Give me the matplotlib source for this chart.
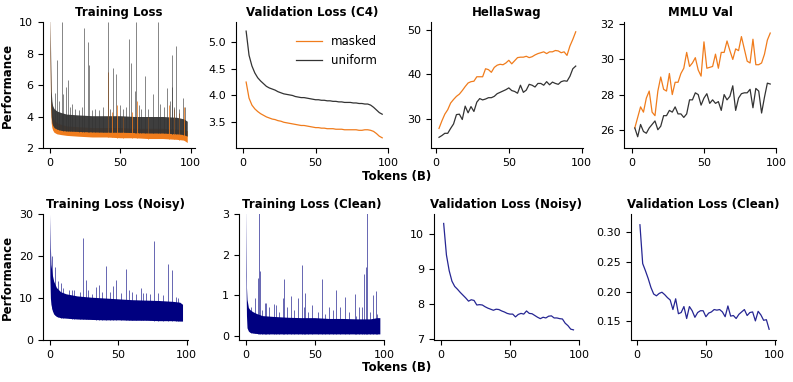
import numpy as np
import matplotlib
matplotlib.use("Agg")
import matplotlib.pyplot as plt

# ---------------- data ----------------
steps = list(range(2, 98, 2))  # evaluation points (B tokens)

# Training loss (band envelope + spikes), masked vs uniform
tl_x = [0.2, 0.6, 1, 1.5, 2, 3, 5, 8, 12, 20, 30, 40, 50, 60, 70, 80, 90, 95, 97.5]
tl_masked_low = [8.0, 4.5, 3.6, 3.3, 3.15, 3.0, 2.9, 2.85, 2.8, 2.75, 2.7, 2.7, 2.65, 2.65, 2.6, 2.6, 2.55, 2.5, 2.35]
tl_masked_high = [10.5, 7.0, 5.0, 4.4, 4.1, 3.8, 3.6, 3.5, 3.4, 3.35, 3.3, 3.3, 3.3, 3.25, 3.25, 3.25, 3.2, 3.15, 3.1]
tl_uniform_low = [8.0, 5.0, 4.0, 3.6, 3.45, 3.3, 3.2, 3.12, 3.08, 3.05, 3.02, 3.0, 3.0, 2.98, 2.95, 2.95, 2.9, 2.85, 2.75]
tl_uniform_high = [10.5, 8.0, 5.6, 5.0, 4.7, 4.5, 4.35, 4.25, 4.15, 4.1, 4.05, 4.05, 4.05, 4.0, 4.0, 4.0, 3.95, 3.85, 3.7]
spk_uniform_x = [5.2, 8.8, 11.4, 12.6, 24.6, 27.0, 27.7, 41.2, 45.0, 46.9, 56.4, 57.8, 60.7, 61.4, 67.3, 73.5, 76.5,
                 83.4, 86.7, 87.0, 89.8, 94.8,
                 3.5, 6.5, 9.5, 14, 16, 18, 21, 23, 30, 32, 35, 38, 43, 50, 52, 54, 63, 65, 70, 78, 81, 85, 88, 92, 96]
spk_uniform_y = [7.6, 10.0, 5.9, 6.3, 9.6, 8.7, 7.3, 10.0, 7.1, 6.7, 8.9, 7.4, 5.6, 10.0, 6.6, 5.4, 10.0,
                 5.8, 7.9, 5.9, 8.5, 5.2,
                 5.5, 5.0, 5.4, 4.6, 4.8, 4.5, 4.4, 4.6, 4.4, 4.5, 4.4, 4.6, 4.5, 4.7, 4.5, 4.6, 4.7, 4.5, 4.5, 4.8,
                 4.6, 5.0, 4.6, 4.5, 4.6]
spk_masked_x = [41.5, 47.6, 62.0, 84.6, 95.0, 44, 52, 58, 70, 88, 92]
spk_masked_y = [6.8, 4.7, 5.0, 4.7, 4.6, 4.3, 4.0, 4.3, 4.0, 4.5, 4.2]

# Validation loss (C4)
val_masked = [4.25, 3.95, 3.82, 3.75, 3.70, 3.66, 3.63, 3.60, 3.58, 3.56, 3.55, 3.53, 3.52, 3.50, 3.49, 3.48,
              3.47, 3.46, 3.45, 3.44, 3.44, 3.43, 3.42, 3.41, 3.40, 3.40, 3.39, 3.39, 3.38, 3.38, 3.38, 3.37,
              3.37, 3.37, 3.36, 3.36, 3.36, 3.36, 3.36, 3.35, 3.35, 3.36, 3.36, 3.35, 3.33, 3.29, 3.24, 3.21]
val_uniform = [5.20, 4.75, 4.55, 4.42, 4.33, 4.27, 4.22, 4.17, 4.14, 4.12, 4.10, 4.07, 4.05, 4.03, 4.02, 4.01,
               4.00, 3.98, 3.97, 3.96, 3.96, 3.95, 3.94, 3.93, 3.92, 3.92, 3.91, 3.91, 3.90, 3.90, 3.89, 3.89,
               3.88, 3.88, 3.87, 3.87, 3.87, 3.86, 3.86, 3.85, 3.85, 3.84, 3.84, 3.82, 3.78, 3.73, 3.68, 3.65]

# HellaSwag
hs_masked = [27.8, 29.5, 31.0, 32.0, 33.5, 34.3, 35.0, 35.5, 36.3, 37.2, 38.0, 38.3, 38.4, 39.4, 39.4, 39.4,
             41.2, 41.0, 40.4, 41.5, 42.0, 42.2, 42.1, 42.5, 43.1, 42.3, 43.0, 43.7, 43.8, 43.8, 44.0, 43.7,
             43.9, 44.3, 44.6, 44.8, 45.0, 44.6, 45.0, 45.0, 45.3, 45.2, 44.8, 45.0, 44.2, 46.3, 47.8, 49.5]
hs_uniform = [25.8, 26.2, 26.7, 26.7, 27.8, 28.8, 30.9, 31.0, 29.8, 32.8, 31.3, 32.7, 31.6, 33.7, 34.5, 34.2,
              34.4, 34.7, 34.7, 35.0, 35.6, 35.9, 36.2, 36.5, 36.9, 36.3, 36.1, 35.7, 37.5, 35.9, 36.4, 37.7,
              37.5, 37.1, 37.9, 37.9, 37.5, 38.3, 37.6, 38.2, 37.9, 37.7, 38.3, 38.5, 38.4, 39.5, 41.2, 41.8]

# MMLU Val
mmlu_masked = [26.1, 26.7, 27.3, 27.0, 27.8, 28.2, 27.0, 26.8, 28.2, 29.0, 28.3, 28.2, 29.2, 28.0, 28.7, 28.7,
               29.2, 29.5, 30.4, 29.6, 29.8, 30.1, 29.4, 29.05, 31.0, 29.5, 29.55, 29.6, 30.3, 29.5, 30.4, 30.4,
               31.05, 30.5, 30.0, 30.6, 30.5, 31.3, 30.6, 29.9, 29.8, 31.15, 29.7, 29.7, 29.8, 30.3, 31.1, 31.5]
mmlu_uniform = [26.1, 25.6, 26.3, 25.9, 25.8, 26.1, 26.3, 26.5, 26.0, 26.2, 26.8, 26.8, 27.1, 27.0, 27.3, 26.9,
                26.9, 26.7, 26.9, 27.7, 27.7, 28.1, 28.0, 27.4, 27.8, 28.05, 27.5, 27.7, 27.5, 27.6, 27.1, 28.0,
                27.7, 27.9, 28.5, 27.1, 27.8, 28.05, 28.1, 28.1, 28.3, 27.25, 28.35, 28.2, 26.95, 27.85, 28.65, 28.6]

# Training loss (Noisy)
tn_x = [0.2, 0.6, 1, 2, 3, 5, 8, 12, 20, 30, 40, 50, 60, 70, 80, 90, 95, 97]
tn_low = [15, 10, 8.5, 7.0, 6.2, 5.6, 5.3, 5.2, 5.0, 4.9, 4.8, 4.8, 4.7, 4.7, 4.6, 4.6, 4.5, 4.5]
tn_high = [30, 22, 18, 15.5, 14, 12.5, 11.5, 11.0, 10.5, 10.2, 10.0, 9.8, 9.6, 9.5, 9.4, 9.2, 9.0, 8.5]
spk_noisy_x = [1.7, 4.1, 26.7, 24.5, 33.7, 36.0, 41.0, 46.6, 48.8, 55.8, 66.5, 76.2, 86.2, 89.0, 14.0, 60.0, 70.0,
               6, 8, 10, 16, 18, 22, 28, 31, 38, 44, 52, 58, 63, 68, 73, 79, 83, 92, 94]
spk_noisy_y = [19.9, 17.5, 14.4, 24.2, 12.7, 13.0, 17.7, 12.8, 14.2, 17.0, 12.4, 23.6, 18.2, 16.7, 12.0, 11.5, 11.2,
               14, 13.5, 12.5, 11.8, 12, 11.5, 12, 11, 11.5, 11.5, 11.2, 11.8, 11, 11.3, 11.0, 11.2, 10.8, 10.2, 10]

# Training loss (Clean)
tc_x = [0.2, 0.6, 1, 2, 3, 5, 8, 12, 20, 30, 40, 50, 60, 70, 80, 90, 95, 97]
tc_low = [1.5, 0.5, 0.2, 0.12, 0.09, 0.07, 0.06, 0.05, 0.05, 0.05, 0.05, 0.05, 0.05, 0.05, 0.05, 0.05, 0.05, 0.05]
tc_high = [3.2, 1.2, 0.9, 0.7, 0.65, 0.6, 0.55, 0.5, 0.48, 0.46, 0.45, 0.45, 0.43, 0.43, 0.42, 0.42, 0.45, 0.45]
spk_clean_x = [9.9, 10.6, 9.1, 27.6, 40.4, 43.0, 55.5, 65.6, 72.0, 78.8, 85.3, 88.0, 87.3, 94.2, 32.5, 37.5, 26.7,
               6.5, 15.0, 20.5, 48.0, 60.0, 82.0, 92.0,
               4, 12, 14, 17, 22, 24, 30, 35, 42, 45, 52, 57, 63, 68, 75, 80, 84, 90, 95]
spk_clean_y = [3.2, 1.6, 1.43, 1.4, 1.75, 1.06, 1.39, 1.12, 0.97, 1.04, 1.52, 3.2, 1.7, 1.1, 0.98, 0.94, 0.94,
               0.93, 0.8, 0.78, 0.75, 0.7, 0.72, 1.0,
               0.7, 0.65, 0.8, 0.7, 0.75, 0.6, 0.7, 0.65, 0.7, 0.6, 0.6, 0.55, 0.65, 0.7, 0.6, 0.5, 0.7, 0.6, 0.55]

# Validation loss (Noisy / Clean)
vn = [10.30, 9.40, 8.95, 8.65, 8.50, 8.42, 8.33, 8.25, 8.17, 8.08, 8.12, 8.10, 7.97, 7.98, 7.97, 7.92,
      7.88, 7.85, 7.82, 7.85, 7.84, 7.80, 7.77, 7.73, 7.71, 7.71, 7.63, 7.70, 7.73, 7.71, 7.80, 7.73,
      7.72, 7.67, 7.62, 7.58, 7.62, 7.60, 7.65, 7.66, 7.60, 7.60, 7.58, 7.57, 7.45, 7.38, 7.28, 7.26]
vc = [0.312, 0.247, 0.235, 0.222, 0.207, 0.196, 0.193, 0.197, 0.199, 0.195, 0.190, 0.186, 0.170, 0.188, 0.163, 0.165,
      0.175, 0.155, 0.175, 0.168, 0.157, 0.165, 0.168, 0.168, 0.158, 0.164, 0.166, 0.170, 0.169, 0.170, 0.166, 0.158,
      0.176, 0.159, 0.160, 0.155, 0.162, 0.166, 0.170, 0.160, 0.165, 0.166, 0.151, 0.167, 0.161, 0.152, 0.153, 0.137]

# ---------------- style ----------------
ORANGE = "#f07c1c"
DARK = "#333333"
NAVY = "#000080"
plt.rcParams["font.family"] = ["DejaVu Sans"]
plt.rcParams["font.size"] = 8

W, H = 793, 382
fig = plt.figure(figsize=(W / 100, H / 100), dpi=100)


def px_axes(left, top, right, bottom):
    return fig.add_axes([left / W, 1 - bottom / H, (right - left) / W, (bottom - top) / H])


top_lefts = [43, 236, 431, 624]
bot_lefts = [43, 239, 434, 631]
axes_top = [px_axes(l, 22, l + 152, 148) for l in top_lefts]
axes_bot = [px_axes(l, 214, l + 145, 340) for l in bot_lefts]

for ax in axes_top + axes_bot:
    ax.spines["top"].set_visible(False)
    ax.spines["right"].set_visible(False)
    ax.tick_params(labelsize=8, length=3.5, width=0.8)

tfont = dict(fontsize=8.5, fontweight="bold", pad=4.5)

# Training loss
ax = axes_top[0]
ax.vlines(spk_masked_x, np.interp(spk_masked_x, tl_x, tl_masked_low), spk_masked_y, color=ORANGE, lw=0.7, alpha=0.8)
ax.fill_between(tl_x, tl_masked_low, tl_masked_high, color=ORANGE, lw=0)
ax.vlines(spk_uniform_x, np.interp(spk_uniform_x, tl_x, tl_uniform_low), spk_uniform_y, color=DARK, lw=0.7, alpha=0.6)
ax.fill_between(tl_x, tl_uniform_low, tl_uniform_high, color=DARK, lw=0, alpha=0.95)
ax.set_ylim(2, 10)
ax.set_xlim(-4.8, 103)
ax.set_title("Training Loss", **tfont)
ax.set_ylabel("Performance", fontsize=8.5, fontweight="bold")

# Validation loss C4
ax = axes_top[1]
ax.plot(steps, val_masked, color=ORANGE, lw=0.9, label="masked")
ax.plot(steps, val_uniform, color=DARK, lw=0.9, label="uniform")
ax.set_ylim(3.02, 5.37)
ax.set_xlim(-5, 100)
ax.set_yticks([3.5, 4.0, 4.5, 5.0])
ax.set_title("Validation Loss (C4)", **tfont)
ax.legend(frameon=False, fontsize=8.5, loc="upper right", bbox_to_anchor=(1.0, 0.98), handlelength=2.2)

# HellaSwag
ax = axes_top[2]
ax.plot(steps, hs_masked, color=ORANGE, lw=0.9)
ax.plot(steps, hs_uniform, color=DARK, lw=0.9)
ax.set_ylim(23.4, 51.7)
ax.set_xlim(-3.5, 101)
ax.set_title("HellaSwag", **tfont)

# MMLU
ax = axes_top[3]
ax.plot(steps, mmlu_masked, color=ORANGE, lw=0.9)
ax.plot(steps, mmlu_uniform, color=DARK, lw=0.9)
ax.set_ylim(24.96, 32.13)
ax.set_xlim(-5.5, 100)
ax.set_yticks([26, 28, 30, 32])
ax.set_title("MMLU Val", **tfont)

# Training loss noisy
ax = axes_bot[0]
ax.vlines(spk_noisy_x, np.interp(spk_noisy_x, tn_x, tn_low), spk_noisy_y, color=NAVY, lw=0.7, alpha=0.6)
ax.fill_between(tn_x, tn_low, tn_high, color=NAVY, lw=0)
ax.set_ylim(0, 30)
ax.set_xlim(-4.8, 101)
ax.set_title("Training Loss (Noisy)", **tfont)
ax.set_ylabel("Performance", fontsize=8.5, fontweight="bold")

# Training loss clean
ax = axes_bot[1]
ax.vlines(spk_clean_x, np.interp(spk_clean_x, tc_x, tc_low), spk_clean_y, color=NAVY, lw=0.7, alpha=0.6)
ax.fill_between(tc_x, tc_low, tc_high, color=NAVY, lw=0)
ax.set_ylim(-0.1, 3)
ax.set_xlim(-4.8, 100)
ax.set_title("Training Loss (Clean)", **tfont)

# Validation noisy
ax = axes_bot[2]
ax.plot(steps, vn, color=NAVY, lw=0.9, alpha=0.85)
ax.set_ylim(6.97, 10.57)
ax.set_xlim(-5, 100)
ax.set_yticks([7, 8, 9, 10])
ax.set_title("Validation Loss (Noisy)", **tfont)

# Validation clean
ax = axes_bot[3]
ax.plot(steps, vc, color=NAVY, lw=0.9, alpha=0.85)
ax.set_ylim(0.119, 0.33)
ax.set_xlim(-4.5, 101)
ax.set_yticks([0.15, 0.20, 0.25, 0.30])
ax.set_title("Validation Loss (Clean)", **tfont)

for ax in axes_top + axes_bot:
    ax.set_xticks([0, 50, 100])

fig.text(397 / W, 1 - 176 / H, "Tokens (B)", ha="center", va="center", fontsize=8.5, fontweight="bold")
fig.text(397 / W, 1 - 367 / H, "Tokens (B)", ha="center", va="center", fontsize=8.5, fontweight="bold")

fig.savefig("out.png", dpi=100)
